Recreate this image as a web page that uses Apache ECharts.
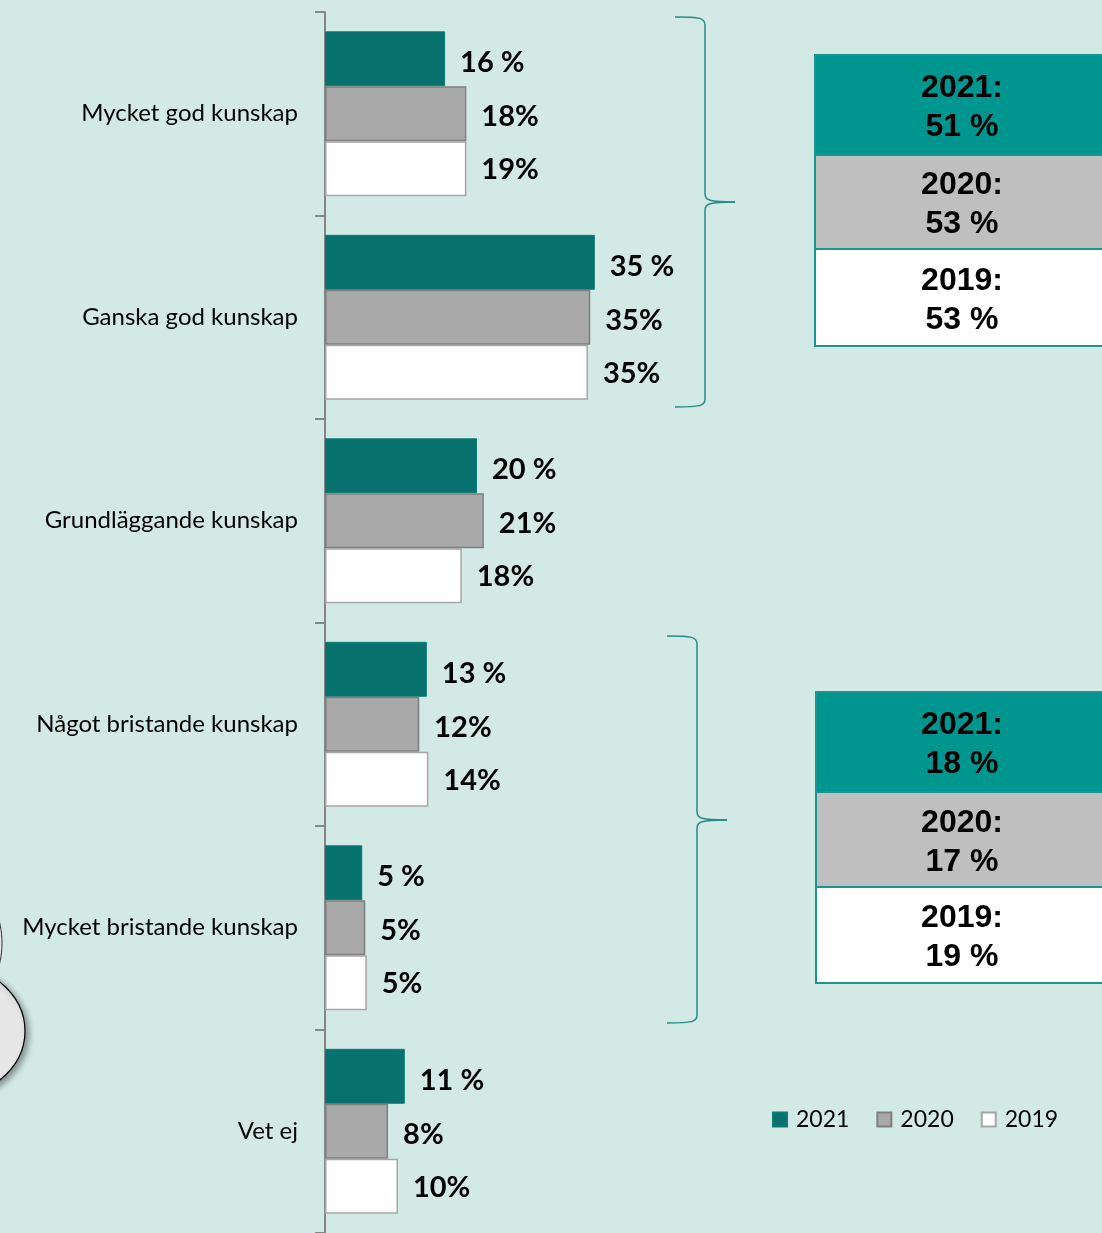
<!DOCTYPE html>
<html>
<head>
<meta charset="utf-8">
<script src="https://cdn.jsdelivr.net/npm/echarts@6/dist/echarts.min.js"></script>
<style>
    html, body { margin: 0; padding: 0; background: #d2e9e6; }
    #main { width: 1102px; height: 1233px; }
</style>
</head>
<body>
<div id="main"></div>
<script>
    // kategorier (uppifrån och ner)
    var categories = ['Mycket god kunskap', 'Ganska god kunskap', 'Grundläggande kunskap',
        'Något bristande kunskap', 'Mycket bristande kunskap', 'Vet ej'];
    var years = ['2021', '2020', '2019'];

    // stapellängder (%)
    var values2021 = [15.8, 35.5, 20.0, 13.4, 4.9, 10.5];
    var values2020 = [18.6, 34.9, 20.9, 12.4, 5.3, 8.3];
    var values2019 = [18.6, 34.6, 18.0, 13.6, 5.5, 9.6];

    // etiketter som de står i bilden
    var labels2021 = ['16 %', '35 %', '20 %', '13 %', '5 %', '11 %'];
    var labels2020 = ['18%', '35%', '21%', '12%', '5%', '8%'];
    var labels2019 = ['19%', '35%', '18%', '14%', '5%', '10%'];

    // summeringsrutor
    var sumGood = ['51 %', '53 %', '53 %'];
    var sumPoor = ['18 %', '17 %', '19 %'];

    var teal = '#07716e';
    var boxColors = ['#009690', '#bfbfbf', '#ffffff'];

    function labelOpt(arr, dy) {
        return {
            show: true,
            position: 'right',
            distance: 15,
            offset: [0, dy],
            fontFamily: 'Lato',
            fontWeight: 'bold',
            fontSize: 29,
            color: '#000',
            formatter: function (p) { return arr[p.dataIndex]; }
        };
    }

    function summaryBox(x, y, heights, vals) {
        var els = [];
        var top = y;
        for (var i = 0; i < 3; i++) {
            els.push({
                type: 'rect',
                shape: {x: x, y: top, width: 300, height: heights[i]},
                style: {fill: boxColors[i], stroke: '#1a9590', lineWidth: 2}
            });
            els.push({
                type: 'text',
                x: 962, y: top + heights[i] / 2 + 3,
                style: {
                    text: years[i] + ':\n' + vals[i],
                    fontFamily: 'Liberation Sans',
                    fontWeight: 'bold',
                    fontSize: 32,
                    lineHeight: 39,
                    fill: '#000',
                    align: 'center',
                    verticalAlign: 'middle'
                }
            });
            top += heights[i];
        }
        return els;
    }

    // klammer av bezierkurvor och linjer
    function brace(x0, x1, tipX, y0, yMid, y1) {
        var st = {fill: null, stroke: '#2a8a87', lineWidth: 1.5};
        function curve(a, b, c, d, e, f, g, h) {
            return {type: 'bezierCurve', shape: {x1: a, y1: b, cpx1: c, cpy1: d, cpx2: e, cpy2: f, x2: g, y2: h}, style: st};
        }
        function line(a, b, c, d) {
            return {type: 'line', shape: {x1: a, y1: b, x2: c, y2: d}, style: st};
        }
        return [
            curve(x0, y0, x1 - 5, y0, x1, y0 + 1, x1, y0 + 8),
            line(x1, y0 + 8, x1, yMid - 8),
            curve(x1, yMid - 8, x1, yMid - 2, x1 + 4, yMid, tipX, yMid),
            curve(tipX, yMid, x1 + 4, yMid, x1, yMid + 2, x1, yMid + 8),
            line(x1, yMid + 8, x1, y1 - 8),
            curve(x1, y1 - 8, x1, y1 - 1, x1 - 5, y1, x0, y1)
        ];
    }

    var chart = echarts.init(document.getElementById('main'));

    var graphics = [].concat(
        summaryBox(815, 55, [100, 94, 97], sumGood),
        summaryBox(816, 692, [100, 95, 96], sumPoor),
        brace(675, 705, 735, 17, 202, 407),
        brace(667, 697, 727, 636, 820, 1023),
        [
            {
                type: 'ellipse',
                shape: {cx: -20, cy: 943, rx: 22, ry: 45},
                style: {fill: '#e6e6e6', stroke: '#333', lineWidth: 1}
            },
            {
                type: 'ellipse',
                shape: {cx: -60, cy: 1031, rx: 85, ry: 69},
                style: {
                    fill: '#e6e6e6', stroke: '#000', lineWidth: 1.2,
                    shadowBlur: 6, shadowOffsetX: 3, shadowOffsetY: 3, shadowColor: 'rgba(0,0,0,0.4)'
                }
            }
        ]
    );

    var opt = {
        backgroundColor: '#d2e9e6',
        animation: false,
        grid: {left: 325, top: 12, width: 760, height: 1224},
        legend: {
            data: years,
            left: 767,
            top: 1103,
            icon: 'rect',
            itemWidth: 14,
            itemHeight: 14,
            itemGap: 27,
            textStyle: {
                fontFamily: 'Lato',
                fontSize: 23,
                color: '#000',
                padding: [0, 0, 0, 4]
            }
        },
        xAxis: {
            type: 'value',
            min: 0,
            max: 100,
            show: false
        },
        yAxis: {
            type: 'category',
            inverse: true,
            data: categories,
            axisLine: {lineStyle: {color: '#868686', width: 2}},
            axisTick: {show: true, interval: 0, length: 10, lineStyle: {color: '#868686', width: 2}},
            axisLabel: {
                margin: 27,
                fontFamily: 'Lato',
                fontSize: 24,
                color: '#000'
            }
        },
        series: [
            {
                name: '2021',
                type: 'bar',
                data: values2021,
                barGap: '0%',
                barCategoryGap: '19%',
                itemStyle: {color: teal, borderColor: '#0b7a76', borderWidth: 1},
                label: labelOpt(labels2021, 4)
            },
            {
                name: '2020',
                type: 'bar',
                data: values2020,
                itemStyle: {color: '#a9a9a9', borderColor: '#7f7f7f', borderWidth: 1.5},
                label: labelOpt(labels2020, 3)
            },
            {
                name: '2019',
                type: 'bar',
                data: values2019,
                itemStyle: {color: '#ffffff', borderColor: '#a6a6a6', borderWidth: 1.5},
                label: labelOpt(labels2019, 1)
            }
        ],
        graphic: graphics
    };

    chart.setOption(opt);
</script>
</body>
</html>
